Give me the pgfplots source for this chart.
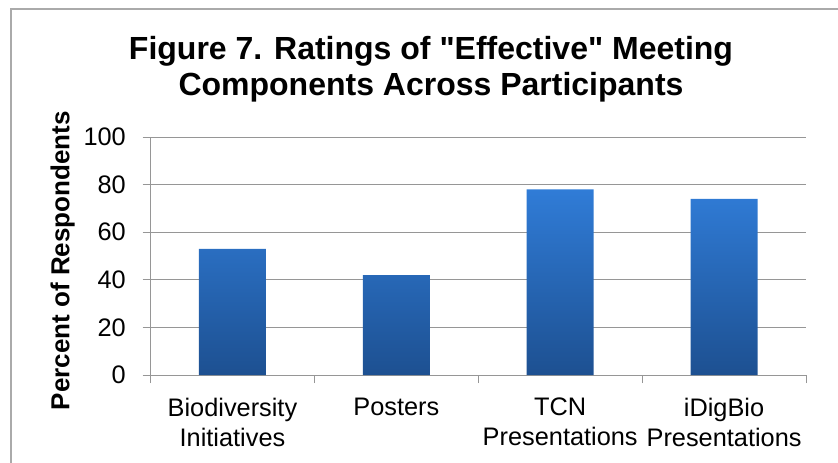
\documentclass[border=0pt]{standalone}
\usepackage{fontspec}
\setmainfont{Liberation Sans}[Ligatures=TeXOff]
\usepackage{pgfplots}
\pgfplotsset{compat=1.18}
\definecolor{gridc}{RGB}{150,150,150}
\definecolor{framec}{RGB}{170,170,170}
\definecolor{bartop}{RGB}{48,124,215}
\definecolor{barbot}{RGB}{29,80,145}
\begin{document}
\begin{tikzpicture}
\useasboundingbox (0,0) rectangle (628.5pt,346.5pt);
\draw[framec, line width=1.1pt] (8.25pt,-2pt) -- (8.25pt,339.75pt) -- (631pt,339.75pt);
\node[align=center, font=\fontsize{24}{27}\selectfont\bfseries, anchor=base] at (323.25pt,275.25pt) {Figure 7. Ratings of "Effective" Meeting\\Components Across Participants};
\begin{axis}[
 at={(112.9pt,65.25pt)}, anchor=south west,
 scale only axis, width=491.6pt, height=178.5pt,
 ybar, bar width=50.25pt,
 xmin=-0.5, xmax=3.5, ymin=0, ymax=100,
 ytick={0,20,...,100},
 xtick={0,1,2,3},
 xticklabels={{Biodiversity\\Initiatives},{Posters},{TCN\\Presentations},{iDigBio\\Presentations}},
 minor xtick={-0.5,0.5,1.5,2.5,3.5},
 axis lines*=left,
 axis line style={gridc, line width=0.75pt},
 ymajorgrids, grid style={gridc, line width=0.75pt},
 tick align=outside,
 major tick length=6pt, minor tick length=6pt,
 tick style={gridc, line width=0.75pt},
 major x tick style={draw=none},
 /pgf/number format/assume math mode=true,
 ticklabel style={font=\fontsize{19}{22.5}\selectfont},
 xticklabel style={align=center, yshift=-7.5pt},
 yticklabel style={xshift=-9pt},
 ylabel={Percent of Respondents},
 ylabel style={font=\fontsize{19.5}{22}\selectfont\bfseries, at={(axis description cs:-0.124,0.48)}, anchor=base},
]
\addplot[draw=none, top color=bartop, bottom color=barbot] coordinates {(0,53) (1,42) (2,78) (3,74)};
\end{axis}
\end{tikzpicture}
\end{document}
